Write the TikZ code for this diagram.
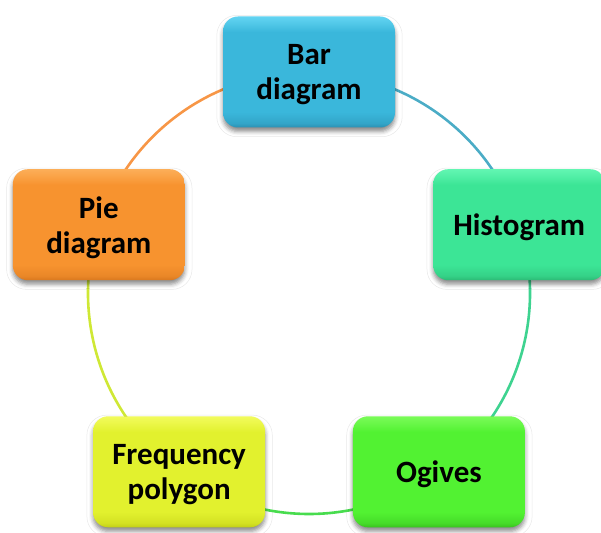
\documentclass[tikz,border=0pt]{standalone}
\usepackage{fontspec}
\setmainfont{Carlito}
\usetikzlibrary{shadows.blur,backgrounds,calc}

% box fills (light top, body, dark bottom) and ring colours
\definecolor{barTop}{HTML}{62D4F2}\definecolor{barMid}{HTML}{3AB7DB}\definecolor{barBot}{HTML}{2A90B2}
\definecolor{hisTop}{HTML}{62F6B2}\definecolor{hisMid}{HTML}{3CE596}\definecolor{hisBot}{HTML}{2BBA75}
\definecolor{ogiTop}{HTML}{7AFB58}\definecolor{ogiMid}{HTML}{52F232}\definecolor{ogiBot}{HTML}{38C21E}
\definecolor{freTop}{HTML}{F2FB5C}\definecolor{freMid}{HTML}{E2F12E}\definecolor{freBot}{HTML}{C2CF16}
\definecolor{pieTop}{HTML}{FCAE58}\definecolor{pieMid}{HTML}{F7932F}\definecolor{pieBot}{HTML}{D9781E}
\definecolor{ringBar}{HTML}{4BACC6}
\definecolor{ringHis}{HTML}{3ED390}
\definecolor{ringOgi}{HTML}{48DC4E}
\definecolor{ringFre}{HTML}{CFE835}
\definecolor{ringPie}{HTML}{F79646}

% glossy vertical fill; the node bounding box spans 25bp..75bp
\pgfdeclareverticalshading[gtop,gmid,gbot]{gloss}{100bp}{%
  color(0bp)=(gbot); color(25bp)=(gbot); color(27bp)=(gbot!45!gmid);
  color(32bp)=(gmid); color(68bp)=(gmid); color(72bp)=(gtop!60!gmid);
  color(75bp)=(gtop); color(100bp)=(gtop)}

\tikzset{
  stepbox/.style n args={3}{
    /utils/exec={\colorlet{gtop}{#1}\colorlet{gmid}{#2}\colorlet{gbot}{#3}},
    shading=gloss, rounded corners=15pt,
    minimum width=172pt, minimum height=111pt, inner sep=0pt,
    align=center, text=black, text depth=0pt,
    font=\fontsize{31}{35}\selectfont\bfseries,
    blur shadow={shadow xshift=0pt, shadow yshift=-4pt,
                 shadow blur radius=4pt, shadow opacity=45}},
  ring/.style={line width=2.6pt},
  halo/.style={draw=gray!18, line width=0.5pt, rounded corners=20pt}
}

\begin{document}
\begin{tikzpicture}
\useasboundingbox (0,0) rectangle (601pt,532pt);
\coordinate (c) at (309pt,239pt);

\node[stepbox={barTop}{barMid}{barBot}] (bar) at ($(c)+(90:221pt)$)  {Bar\\diagram};
\node[stepbox={hisTop}{hisMid}{hisBot}] (his) at ($(c)+(18:221pt)$)  {Histogram};
\node[stepbox={ogiTop}{ogiMid}{ogiBot}] (ogi) at ($(c)+(-54:221pt)$) {Ogives};
\node[stepbox={freTop}{freMid}{freBot}] (fre) at ($(c)+(234:221pt)$) {Frequency\\polygon};
\node[stepbox={pieTop}{pieMid}{pieBot}] (pie) at ($(c)+(162:221pt)$) {Pie\\diagram};

\begin{scope}[on background layer]
  % faint outlines round each box
  \foreach \n in {bar,his,ogi,fre,pie}
    \draw[halo] ([xshift=-6pt,yshift=-9pt]\n.south west) rectangle ([xshift=7pt,yshift=1pt]\n.north east);
  % ring of arcs joining the boxes
  \draw[ring, ringBar] (bar.center) arc[start angle=90,  end angle=18,   radius=221pt];
  \draw[ring, ringHis] (his.center) arc[start angle=18,  end angle=-54,  radius=221pt];
  \draw[ring, ringOgi] (ogi.center) arc[start angle=-54, end angle=-126, radius=221pt];
  \draw[ring, ringFre] (fre.center) arc[start angle=234, end angle=162,  radius=221pt];
  \draw[ring, ringPie] (pie.center) arc[start angle=162, end angle=90,   radius=221pt];
\end{scope}
\end{tikzpicture}
\end{document}
